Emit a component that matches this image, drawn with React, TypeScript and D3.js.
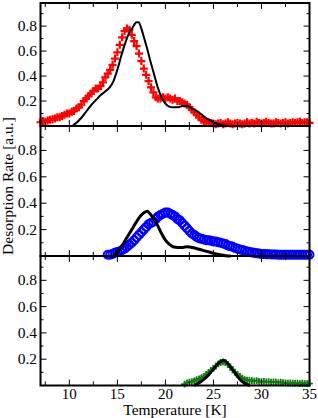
import { useEffect, useRef } from "react";
import * as d3 from "d3";

type Pt = [number, number];

const xTicks = [10, 15, 20, 25, 30, 35];
const xMinor = [7.5, 12.5, 17.5, 22.5, 27.5, 32.5];
const yTicks = [0.2, 0.4, 0.6, 0.8];
const yMinor = [0.1, 0.3, 0.5, 0.7, 0.9];

// top panel: experiment (red +) and simulation (black)
const redData: Pt[] = [
  [7, 0.03], [7.25, 0.04], [7.5, 0.035], [7.75, 0.045], [8, 0.05], [8.25, 0.055], [8.5, 0.06], [8.75, 0.07],
  [9, 0.07], [9.25, 0.08], [9.5, 0.09], [9.75, 0.1], [10, 0.1], [10.25, 0.115], [10.5, 0.12], [10.75, 0.14],
  [11, 0.15], [11.25, 0.17], [11.5, 0.2], [11.75, 0.22], [12, 0.24], [12.25, 0.26], [12.5, 0.28], [12.75, 0.3],
  [13, 0.3], [13.25, 0.32], [13.5, 0.35], [13.75, 0.39], [14, 0.42], [14.25, 0.45], [14.5, 0.49], [14.75, 0.54],
  [15, 0.59], [15.25, 0.65], [15.5, 0.71], [15.75, 0.76], [16, 0.78], [16.25, 0.77], [16.5, 0.73], [16.75, 0.68],
  [17, 0.64], [17.25, 0.58], [17.5, 0.52], [17.75, 0.46], [18, 0.41], [18.25, 0.36], [18.5, 0.31], [18.75, 0.27],
  [19, 0.23], [19.25, 0.22], [19.5, 0.22], [19.75, 0.23], [20, 0.22], [20.25, 0.23], [20.5, 0.22], [20.75, 0.21],
  [21, 0.22], [21.25, 0.2], [21.5, 0.2], [21.75, 0.19], [22, 0.18], [22.25, 0.17], [22.5, 0.15], [22.75, 0.13],
  [23, 0.11], [23.25, 0.09], [23.5, 0.07], [23.75, 0.05], [24, 0.04], [24.25, 0.03], [24.5, 0.03], [24.75, 0.025],
  [25, 0.02], [25.25, 0.015], [25.5, 0.02], [25.75, 0.025], [26, 0.015], [26.25, 0.02], [26.5, 0.03], [26.75, 0.02],
  [27, 0.015], [27.25, 0.02], [27.5, 0.025], [27.75, 0.02], [28, 0.015], [28.25, 0.02], [28.5, 0.03], [28.75, 0.02],
  [29, 0.025], [29.25, 0.02], [29.5, 0.035], [29.75, 0.025], [30, 0.02], [30.25, 0.025], [30.5, 0.035], [30.75, 0.025],
  [31, 0.02], [31.25, 0.02], [31.5, 0.03], [31.75, 0.025], [32, 0.02], [32.25, 0.025], [32.5, 0.03], [32.75, 0.02],
  [33, 0.025], [33.25, 0.03], [33.5, 0.025], [33.75, 0.03], [34, 0.035], [34.25, 0.025], [34.5, 0.03], [34.75, 0.03],
  [35, 0.025],
];
const simTop: Pt[] = [
  [10.3, 0], [10.8, 0.03], [11.3, 0.07], [11.8, 0.12], [12.3, 0.17], [12.8, 0.21], [13.3, 0.25], [13.8, 0.28],
  [14.2, 0.31], [14.6, 0.36], [15, 0.45], [15.4, 0.56], [15.8, 0.66], [16.2, 0.74], [16.6, 0.79], [17, 0.83],
  [17.2, 0.83], [17.5, 0.78], [17.8, 0.7], [18.1, 0.62], [18.4, 0.53], [18.8, 0.42], [19.2, 0.31], [19.6, 0.23],
  [20, 0.18], [20.4, 0.155], [20.8, 0.15], [21.3, 0.15], [21.8, 0.16], [22.3, 0.16], [22.8, 0.14], [23.3, 0.12],
  [23.8, 0.09], [24.3, 0.06], [24.8, 0.04], [25.3, 0.02], [25.8, 0.01], [26.3, 0.003], [26.8, 0], [35, 0],
];

// middle panel: experiment (blue o) and simulation
const blueData: Pt[] = [
  [14, 0.01], [14.25, 0.01], [14.5, 0.015], [14.75, 0.025], [15, 0.03], [15.25, 0.035], [15.5, 0.045], [15.75, 0.055],
  [16, 0.07], [16.25, 0.085], [16.5, 0.1], [16.75, 0.12], [17, 0.14], [17.25, 0.16], [17.5, 0.18], [17.75, 0.2],
  [18, 0.22], [18.25, 0.24], [18.5, 0.25], [18.75, 0.26], [19, 0.28], [19.25, 0.3], [19.5, 0.31], [19.75, 0.32],
  [20, 0.33], [20.25, 0.33], [20.5, 0.32], [20.75, 0.31], [21, 0.3], [21.25, 0.28], [21.5, 0.27], [21.75, 0.25],
  [22, 0.23], [22.25, 0.21], [22.5, 0.19], [22.75, 0.17], [23, 0.16], [23.25, 0.145], [23.5, 0.135], [23.75, 0.13],
  [24, 0.125], [24.25, 0.12], [24.5, 0.12], [24.75, 0.115], [25, 0.11], [25.25, 0.11], [25.5, 0.105], [25.75, 0.1],
  [26, 0.095], [26.25, 0.09], [26.5, 0.08], [26.75, 0.075], [27, 0.07], [27.25, 0.06], [27.5, 0.055], [27.75, 0.05],
  [28, 0.045], [28.25, 0.04], [28.5, 0.035], [28.75, 0.03], [29, 0.027], [29.25, 0.024], [29.5, 0.02], [29.75, 0.018],
  [30, 0.016], [30.25, 0.015], [30.5, 0.014], [30.75, 0.013], [31, 0.012], [31.25, 0.012], [31.5, 0.011], [31.75, 0.01],
  [32, 0.01], [32.25, 0.01], [32.5, 0.01], [32.75, 0.01], [33, 0.01], [33.25, 0.01], [33.5, 0.01], [33.75, 0.01],
  [34, 0.01], [34.25, 0.01], [34.5, 0.01], [34.75, 0.01], [35, 0.01],
];
const simMid: Pt[] = [
  [14.6, 0], [15, 0.03], [15.5, 0.08], [16, 0.14], [16.5, 0.2], [17, 0.26], [17.5, 0.31], [17.8, 0.33],
  [18.1, 0.34], [18.4, 0.32], [18.8, 0.28], [19.2, 0.23], [19.6, 0.17], [20, 0.12], [20.4, 0.09], [20.8, 0.07],
  [21.3, 0.065], [21.8, 0.065], [22.3, 0.07], [22.8, 0.065], [23.3, 0.055], [23.8, 0.045], [24.3, 0.035],
  [24.8, 0.025], [25.3, 0.015], [25.8, 0.007], [26.3, 0.002], [26.8, 0],
];

// bottom panel: experiment (green +) and simulation
const greenData: Pt[] = [
  [22, 0.01], [22.25, 0.02], [22.5, 0.025], [22.75, 0.03], [23, 0.035], [23.25, 0.045], [23.5, 0.05], [23.75, 0.06],
  [24, 0.07], [24.25, 0.085], [24.5, 0.1], [24.75, 0.115], [25, 0.13], [25.25, 0.15], [25.5, 0.165], [25.75, 0.175],
  [26, 0.18], [26.25, 0.175], [26.5, 0.16], [26.75, 0.14], [27, 0.12], [27.25, 0.1], [27.5, 0.085], [27.75, 0.07],
  [28, 0.055], [28.25, 0.045], [28.5, 0.04], [28.75, 0.038], [29, 0.036], [29.25, 0.034], [29.5, 0.036], [29.75, 0.032],
  [30, 0.03], [30.25, 0.032], [30.5, 0.028], [30.75, 0.03], [31, 0.026], [31.25, 0.028], [31.5, 0.025], [31.75, 0.022],
  [32, 0.025], [32.25, 0.022], [32.5, 0.02], [32.75, 0.018], [33, 0.02], [33.25, 0.018], [33.5, 0.016], [33.75, 0.018],
  [34, 0.015], [34.25, 0.017], [34.5, 0.014], [34.75, 0.015], [35, 0.014],
];
const simBottom: Pt[] = [
  [23, 0], [23.4, 0.015], [23.8, 0.035], [24.2, 0.06], [24.6, 0.09], [25, 0.125], [25.4, 0.16], [25.8, 0.185],
  [26.1, 0.19], [26.4, 0.175], [26.8, 0.14], [27.2, 0.1], [27.6, 0.06], [28, 0.03], [28.4, 0.01], [28.8, 0],
];

const FONT = "Liberation Serif, Times New Roman, DejaVu Serif, serif";

const App = () => {
  const svgRef = useRef<SVGSVGElement>(null);

  useEffect(() => {
    const svg = d3.select(svgRef.current);
    svg.selectAll("*").remove();

    const left = 40.5;
    const right = 309.5;
    const x = d3.scaleLinear().domain([7, 35]).range([left, right]);

    const panels = [
      { top: 3, bottom: 126, data: redData, sim: simTop, kind: "plus", color: "#ff0000", size: 4, sw: 2.2, simW: 2 },
      { top: 126, bottom: 256, data: blueData, sim: simMid, kind: "circle", color: "#0000ff", size: 4, sw: 2, simW: 3 },
      { top: 256, bottom: 385.5, data: greenData, sim: simBottom, kind: "plus", color: "#0d7d0d", size: 3.4, sw: 1.8, simW: 3 },
    ];

    panels.forEach((p) => {
      const y = d3.scaleLinear().domain([0, 0.985]).range([p.bottom, p.top]);
      const g = svg.append("g");

      // data markers
      if (p.kind === "circle") {
        g.selectAll("circle")
          .data(p.data)
          .enter()
          .append("circle")
          .attr("cx", (d) => x(d[0]))
          .attr("cy", (d) => y(d[1]))
          .attr("r", p.size)
          .attr("fill", "none")
          .attr("stroke", p.color)
          .attr("stroke-width", p.sw);
      } else {
        const s = p.size;
        g.selectAll("path.mk")
          .data(p.data)
          .enter()
          .append("path")
          .attr("class", "mk")
          .attr("transform", (d) => `translate(${x(d[0])},${y(d[1])})`)
          .attr("d", `M${-s},0H${s}M0,${-s}V${s}`)
          .attr("stroke", p.color)
          .attr("stroke-width", p.sw);
      }

      // simulation line
      const line = d3
        .line<Pt>()
        .x((d) => x(d[0]))
        .y((d) => y(d[1]))
        .curve(d3.curveMonotoneX);
      g.append("path")
        .attr("d", line(p.sim))
        .attr("fill", "none")
        .attr("stroke", "#000")
        .attr("stroke-width", p.simW)
        .attr("stroke-linejoin", "round");

      // frame
      g.append("rect")
        .attr("x", left)
        .attr("y", p.top)
        .attr("width", right - left)
        .attr("height", p.bottom - p.top)
        .attr("fill", "none")
        .attr("stroke", "#000")
        .attr("stroke-width", 2);

      // y ticks, both sides, pointing in
      const yt = yTicks.map((v) => ({ v, len: 6 })).concat(yMinor.map((v) => ({ v, len: 3 })));
      yt.forEach((t) => {
        g.append("line")
          .attr("x1", left).attr("x2", left + t.len)
          .attr("y1", y(t.v)).attr("y2", y(t.v))
          .attr("stroke", "#000").attr("stroke-width", 1);
        g.append("line")
          .attr("x1", right).attr("x2", right - t.len)
          .attr("y1", y(t.v)).attr("y2", y(t.v))
          .attr("stroke", "#000").attr("stroke-width", 1);
      });
      yTicks.forEach((v) => {
        g.append("text")
          .attr("x", 37)
          .attr("y", y(v) + 5)
          .attr("text-anchor", "end")
          .style("font-family", FONT)
          .style("font-size", "15.5px")
          .text(v.toFixed(1));
      });

      // x ticks, top and bottom, pointing in
      const xt = xTicks.map((v) => ({ v, len: 6 })).concat(xMinor.map((v) => ({ v, len: 4 })));
      xt.forEach((t) => {
        g.append("line")
          .attr("x1", x(t.v)).attr("x2", x(t.v))
          .attr("y1", p.top).attr("y2", p.top + t.len)
          .attr("stroke", "#000").attr("stroke-width", 1);
        g.append("line")
          .attr("x1", x(t.v)).attr("x2", x(t.v))
          .attr("y1", p.bottom).attr("y2", p.bottom - t.len)
          .attr("stroke", "#000").attr("stroke-width", 1);
      });
    });

    // bottom x labels
    xTicks.forEach((v) => {
      svg.append("text")
        .attr("x", x(v))
        .attr("y", 399)
        .attr("text-anchor", "middle")
        .style("font-family", FONT)
        .style("font-size", "15px")
        .text(v);
    });

    svg.append("text")
      .attr("x", 175)
      .attr("y", 414.5)
      .attr("text-anchor", "middle")
      .style("font-family", FONT)
      .style("font-size", "15.5px")
      .text("Temperature [K]");

    svg.append("text")
      .attr("transform", "translate(12.5,186) rotate(-90)")
      .attr("text-anchor", "middle")
      .style("font-family", FONT)
      .style("font-size", "15.5px")
      .text("Desorption Rate [a.u.]");
  }, []);

  return (
    <svg
      ref={svgRef}
      width={318}
      height={418}
      style={{ position: "absolute", left: 0, top: 0, background: "#fff" }}
    />
  );
};

export default App;
